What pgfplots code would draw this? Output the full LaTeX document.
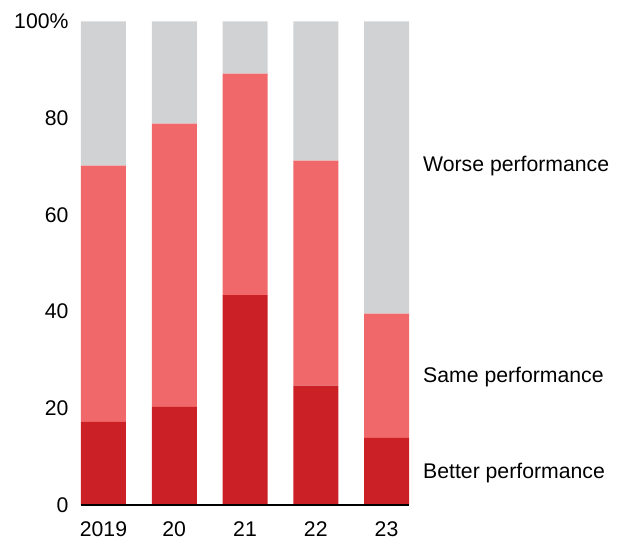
\documentclass[border=0pt]{standalone}
\usepackage{pgfplots}
\pgfplotsset{compat=1.18}
\usepackage{fontspec}
\setmainfont{Liberation Sans}
\definecolor{cgrey}{HTML}{D1D2D4}
\definecolor{csame}{HTML}{F0686A}
\definecolor{cbetter}{HTML}{CC2027}
\begin{document}
\begin{tikzpicture}[x=1bp,y=1bp]
\begin{axis}[
  at={(0,0)}, anchor=south west,
  scale only axis, width=328bp, height=483.5bp,
  ybar stacked, bar width=45bp,
  xmin=-0.318, xmax=4.318, ymin=0, ymax=100,
  xtick={0,1,2,3,4}, xticklabels={2019,20,21,22,23},
  ytick={0,20,40,60,80,100},
  yticklabels={0,20,40,60,80,100\%},
  /pgf/number format/assume math mode=true,
  yticklabel style={anchor=east, xshift=-9bp, font=\fontsize{21.3}{21.3}\selectfont},
  xticklabel style={yshift=-13bp, font=\fontsize{21.3}{21.3}\selectfont},
  major tick length=0pt,
  axis x line*=bottom, axis y line*=left,
  y axis line style={draw=none},
  x axis line style={line width=2.2bp, -},
  axis on top,
  clip=false,
]
\addplot[fill=cbetter, draw=none] coordinates {(0,17.2) (1,20.3) (2,43.4) (3,24.7) (4,13.9)};
\addplot[fill=csame, draw=none] coordinates {(0,53.0) (1,58.6) (2,45.8) (3,46.5) (4,25.7)};
\addplot[fill=cgrey, draw=none] coordinates {(0,29.8) (1,21.1) (2,10.8) (3,28.8) (4,60.4)};
\end{axis}
\node[anchor=west, inner sep=0pt, font=\fontsize{21.3}{21.3}\selectfont] at (342,339) {Worse performance};
\node[anchor=west, inner sep=0pt, font=\fontsize{21.3}{21.3}\selectfont] at (342,128) {Same performance};
\node[anchor=west, inner sep=0pt, font=\fontsize{21.3}{21.3}\selectfont] at (342,32) {Better performance};
\pgfresetboundingbox
\useasboundingbox (-81,-37) rectangle (539,505);
\end{tikzpicture}
\end{document}
